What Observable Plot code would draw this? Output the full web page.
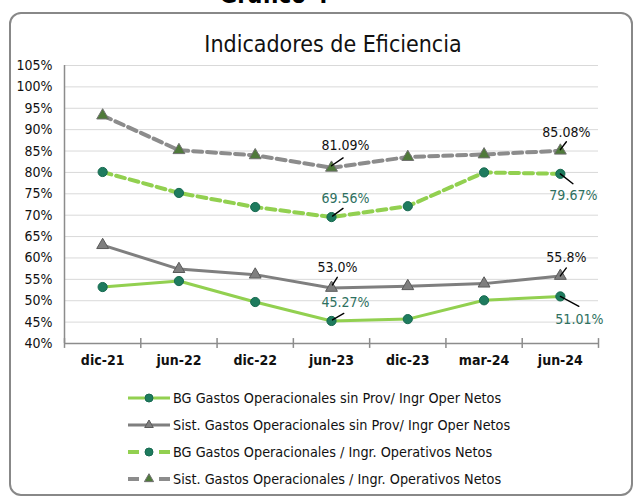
<!DOCTYPE html>
<html>
<head>
<meta charset="utf-8">
<script src="https://cdn.jsdelivr.net/npm/d3@7"></script>
<script src="https://cdn.jsdelivr.net/npm/@observablehq/plot@0.6"></script>
<style>
  html, body { margin: 0; padding: 0; background: #fff; }
  body { font-family: "DejaVu Sans Condensed", "DejaVu Sans", sans-serif; font-stretch: condensed; }
  #wrap { position: relative; width: 638px; height: 496px; overflow: hidden; background: #fff; }
  #frame { position: absolute; left: 9px; top: 12px; width: 620px; height: 480px; border: 2px solid #888; border-radius: 12px; }
  #sup { position: absolute; left: 0; width: 548px; top: -19px; text-align: center; font-weight: bold; font-size: 24px; line-height: 28px; color: #000; }
  #title { position: absolute; left: 0; width: 666px; top: 30px; text-align: center; font-size: 23px; line-height: 28px; color: #111; }
  #chart { position: absolute; left: 0; top: 0; }
  #legend { position: absolute; left: 128px; top: 384px; font-size: 14.3px; color: #111; }
  .row { display: flex; align-items: center; height: 27px; }
  .row svg { margin-right: 3px; }
</style>
</head>
<body>
<div id="wrap">
  <div id="frame"></div>
  <div id="sup">Gráfico 4</div>
  <div id="title">Indicadores de Eficiencia</div>
  <div id="chart"></div>
  <div id="legend"></div>
</div>
<script>
// ---- data ----
const categories = ["dic-21", "jun-22", "dic-22", "jun-23", "dic-23", "mar-24", "jun-24"];
const seriesNames = [
  "BG Gastos Operacionales sin Prov/ Ingr Oper Netos",
  "Sist. Gastos Operacionales sin Prov/ Ingr Oper Netos",
  "BG Gastos Operacionales / Ingr. Operativos Netos",
  "Sist. Gastos Operacionales / Ingr. Operativos Netos"
];
const bgSinProv   = [53.2, 54.6, 49.7, 45.27, 45.7, 50.1, 51.01];
const sistSinProv = [63.0, 57.4, 56.1, 53.0, 53.4, 54.0, 55.8];
const bgTotal     = [80.1, 75.2, 71.9, 69.56, 72.1, 80.0, 79.67];
const sistTotal   = [93.3, 85.2, 84.0, 81.09, 83.6, 84.2, 85.08];
const yTicks = [40, 45, 50, 55, 60, 65, 70, 75, 80, 85, 90, 95, 100, 105];
// data labels: series index, category index, text
const dataLabels = [
  {s: 3, i: 3, text: "81.09%"},
  {s: 2, i: 3, text: "69.56%"},
  {s: 1, i: 3, text: "53.0%"},
  {s: 0, i: 3, text: "45.27%"},
  {s: 3, i: 6, text: "85.08%"},
  {s: 2, i: 6, text: "79.67%"},
  {s: 1, i: 6, text: "55.8%"},
  {s: 0, i: 6, text: "51.01%"}
];

// ---- layout / styles (kept separate from data) ----
const FONT = '"DejaVu Sans Condensed", "DejaVu Sans", sans-serif';
const styles = [
  {stroke: "#92D050", width: 3, dash: null, symbol: "circle", r: 4.6, lr: 4, fill: "#1E7B5E", dotStroke: "#176a50"},
  {stroke: "#7F7F7F", width: 3, dash: null, symbol: "triangle", r: 4.4, lr: 3.2, fill: "#7F7F7F", dotStroke: "#5a5a5a"},
  {stroke: "#92D050", width: 4, dash: "9,5", symbol: "circle", r: 4.6, lr: 4, fill: "#1E7B5E", dotStroke: "#176a50"},
  {stroke: "#8C8C8C", width: 4, dash: "9,5", symbol: "triangle", r: 4.4, lr: 3.4, fill: "#4F7A3A", dotStroke: "#707070"}
];
// label placement: text offset (dx,dy) and leader (offset, rotate, length)
const labelLayout = [
  {tdx: 14, tdy: -22, ldx: 0, ldy: -2, rot: 56, len: 14},
  {tdx: 14, tdy: -19, ldx: 1, ldy: -1, rot: 54, len: 13},
  {tdx: 6,  tdy: -20, ldx: 1, ldy: -3, rot: 32, len: 9},
  {tdx: 14, tdy: -18, ldx: 1, ldy: -1, rot: 60, len: 13},
  {tdx: 6,  tdy: -18, ldx: 0, ldy: -1, rot: 37, len: 10},
  {tdx: 13, tdy: 22,  ldx: 0, ldy: 0,  rot: 128, len: 16},
  {tdx: 6,  tdy: -18, ldx: 0, ldy: 0,  rot: 37, len: 10},
  {tdx: 19, tdy: 23,  ldx: 0, ldy: 0,  rot: 118, len: 21}
];
const labelColors = ["#2E7060", "#111", "#2E7060", "#111"];

const allSeries = [bgSinProv, sistSinProv, bgTotal, sistTotal];
const rows = allSeries.map((vals, s) => vals.map((v, i) => ({s, i, v, name: seriesNames[s], cat: categories[i]})));

const leaderShape = {
  draw(context, l) { context.moveTo(0, 0); context.lineTo(0, -l); }
};

const marks = [
  Plot.gridY(yTicks.filter(d => d > 40), {stroke: "#D9D9D9", strokeOpacity: 1, strokeWidth: 1}),
  Plot.ruleX([-0.5], {stroke: "#8C8C8C", strokeWidth: 1.5}),
  Plot.ruleY([40], {stroke: "#8C8C8C", strokeWidth: 1.5}),
  Plot.ruleX(d3.range(categories.length + 1).map(k => k - 0.5), {y1: 38.85, y2: 41.15, stroke: "#8C8C8C", strokeWidth: 1.5}),
  Plot.axisY(yTicks, {label: null, tickSize: 0, tickPadding: 12, tickFormat: d => d + "%", fontSize: 14, fill: "#111"}),
  Plot.axisX(d3.range(categories.length), {label: null, tickSize: 0, tickPadding: 12, tickFormat: i => categories[i], fontSize: 14, fontWeight: "bold", fill: "#111"})
];

rows.forEach((data, s) => {
  const st = styles[s];
  marks.push(Plot.line(data, {x: "i", y: "v", stroke: st.stroke, strokeWidth: st.width, strokeDasharray: st.dash, strokeLinejoin: "round"}));
});
rows.forEach((data, s) => {
  const st = styles[s];
  marks.push(Plot.dot(data, {x: "i", y: "v", symbol: st.symbol, r: st.r, fill: st.fill, stroke: st.dotStroke, strokeWidth: 1}));
});
dataLabels.forEach((lab, k) => {
  const L = labelLayout[k];
  const d = [{i: lab.i, v: allSeries[lab.s][lab.i], text: lab.text}];
  marks.push(Plot.vector(d, {x: "i", y: "v", anchor: "start", rotate: L.rot, length: L.len, shape: leaderShape, stroke: "#000", strokeWidth: 1.4, dx: L.ldx, dy: L.ldy}));
  marks.push(Plot.text(d, {x: "i", y: "v", text: "text", dx: L.tdx, dy: L.tdy, fontSize: 14, fill: labelColors[lab.s]}));
});

const chart = Plot.plot({
  width: 638,
  height: 380,
  marginLeft: 64,
  marginRight: 40,
  marginTop: 65,
  marginBottom: 37,
  style: {fontFamily: FONT, background: "transparent", overflow: "visible"},
  x: {type: "linear", domain: [-0.5, categories.length - 0.5], axis: null, label: null},
  y: {domain: [40, 105], axis: null, label: null},
  marks
});
document.getElementById("chart").appendChild(chart);

// ---- legend ----
const legend = document.getElementById("legend");
seriesNames.forEach((name, s) => {
  const st = styles[s];
  const row = document.createElement("div");
  row.className = "row";
  const ns = "http://www.w3.org/2000/svg";
  const svg = document.createElementNS(ns, "svg");
  svg.setAttribute("width", 42); svg.setAttribute("height", 14);
  const ln = document.createElementNS(ns, "line");
  ln.setAttribute("x1", 0); ln.setAttribute("x2", 42); ln.setAttribute("y1", 7); ln.setAttribute("y2", 7);
  ln.setAttribute("stroke", st.stroke); ln.setAttribute("stroke-width", st.width);
  if (st.dash) ln.setAttribute("stroke-dasharray", "11,20,11");
  svg.appendChild(ln);
  const sym = document.createElementNS(ns, "path");
  const size = Math.PI * st.lr * st.lr;
  sym.setAttribute("d", d3.symbol(st.symbol === "circle" ? d3.symbolCircle : d3.symbolTriangle, size)());
  sym.setAttribute("transform", "translate(21,7)");
  sym.setAttribute("fill", st.fill); sym.setAttribute("stroke", st.dotStroke);
  svg.appendChild(sym);
  row.appendChild(svg);
  const t = document.createElement("span");
  t.textContent = name;
  row.appendChild(t);
  legend.appendChild(row);
});
</script>
</body>
</html>
